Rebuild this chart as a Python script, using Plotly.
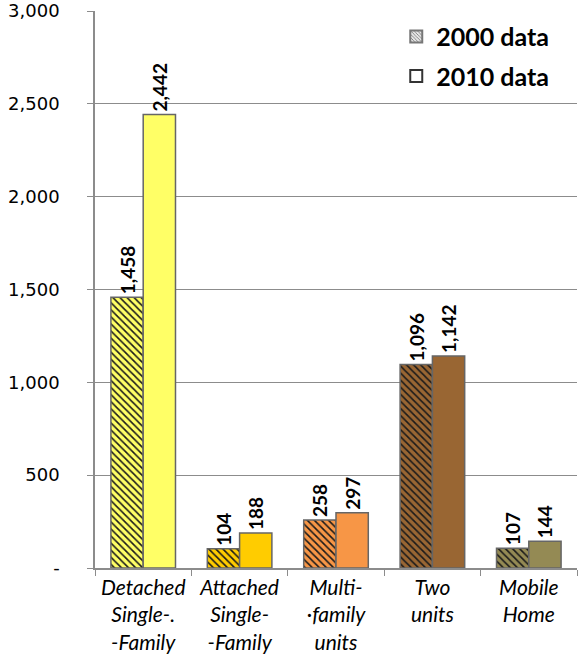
import plotly.graph_objects as go

categories = ["Detached<br>Single-.<br>-Family", "Attached<br>Single-<br>-Family",
              "Multi-<br>·family<br>units", "Two<br>units", "Mobile<br>Home"]
values_2000 = [1458, 104, 258, 1096, 107]
values_2010 = [2442, 188, 297, 1142, 144]
colors = ["#FFFF66", "#FFCC00", "#F79646", "#996633", "#948A54"]
y_ticks = [0, 500, 1000, 1500, 2000, 2500, 3000]
y_tick_text = ["-", "500", "1,000", "1,500", "2,000", "2,500", "3,000"]

FONT = "Lato, 'DejaVu Sans', sans-serif"
TICKFONT = "'DejaVu Sans', sans-serif"
LABELFONT = dict(family=FONT, size=19, color="black", weight="bold")

fig = go.Figure()
# 2000 series: one trace per category so each bar gets its own hatch background
for cat, val, col in zip(categories, values_2000, colors):
    fig.add_trace(go.Bar(
        x=[cat], y=[val], name="2000 data", showlegend=False, offsetgroup="a",
        marker=dict(color=col, line=dict(color="#666666", width=1.5),
                    pattern=dict(shape="\\", fgcolor="#1a1a1a", bgcolor=col,
                                 fgopacity=1, size=5, solidity=0.32, fillmode="replace")),
        text=[f"{val:,}"], textposition="outside", textangle=-90,
        constraintext="none", cliponaxis=False, textfont=LABELFONT,
    ))
fig.add_trace(go.Bar(
    x=categories, y=values_2010, name="2010 data", showlegend=False, offsetgroup="b",
    marker=dict(color=colors, line=dict(color="#666666", width=1.5)),
    text=[f"{v:,}" for v in values_2010], textposition="outside", textangle=-90,
    constraintext="none", cliponaxis=False, textfont=LABELFONT,
))
# legend entries
fig.add_trace(go.Bar(
    x=[categories[0]], y=[None], name="2000 data", offsetgroup="a", legendgroup="g1",
    marker=dict(color="#e0e0e0", line=dict(color="#777777", width=1),
                pattern=dict(shape="\\", fgcolor="#777777", bgcolor="#e6e6e6",
                             size=3, solidity=0.35, fillmode="replace")),
))
fig.add_trace(go.Bar(
    x=[categories[0]], y=[None], name="2010 data", offsetgroup="b", legendgroup="g2",
    marker=dict(color="white", line=dict(color="#333333", width=1)),
))

fig.update_layout(
    width=584, height=656,
    margin=dict(l=95, r=7, t=11, b=88),
    paper_bgcolor="white", plot_bgcolor="white",
    barmode="group", bargap=0.33, bargroupgap=0,
    font=dict(family=FONT, color="black"),
    legend=dict(x=0.625, y=0.995, xanchor="left", yanchor="top",
                font=dict(family=FONT, size=25, color="black", weight="bold"),
                bgcolor="rgba(0,0,0,0)", tracegroupgap=4, itemsizing="constant"),
    showlegend=True,
)
fig.update_yaxes(range=[0, 3000], tickvals=y_ticks, ticktext=y_tick_text,
                 automargin=False, ticklabeloverflow="allow", ticklabelstandoff=24,
                 showgrid=True, gridcolor="#8c8c8c", gridwidth=1,
                 showline=True, linecolor="#8c8c8c", linewidth=1.5,
                 ticks="outside", ticklen=6, tickcolor="#8c8c8c",
                 tickfont=dict(family=TICKFONT, size=18, color="black"), zeroline=False)
fig.update_xaxes(showline=True, linecolor="#8c8c8c", linewidth=1.5, automargin=False,
                 ticks="outside", tickson="boundaries", ticklen=6, tickcolor="#8c8c8c",
                 tickfont=dict(family=FONT, size=21, color="black", style="italic"),
                 tickangle=0)

fig.write_html("out.html", config={"displayModeBar": False},
               post_script="document.body.style.margin='0';")
